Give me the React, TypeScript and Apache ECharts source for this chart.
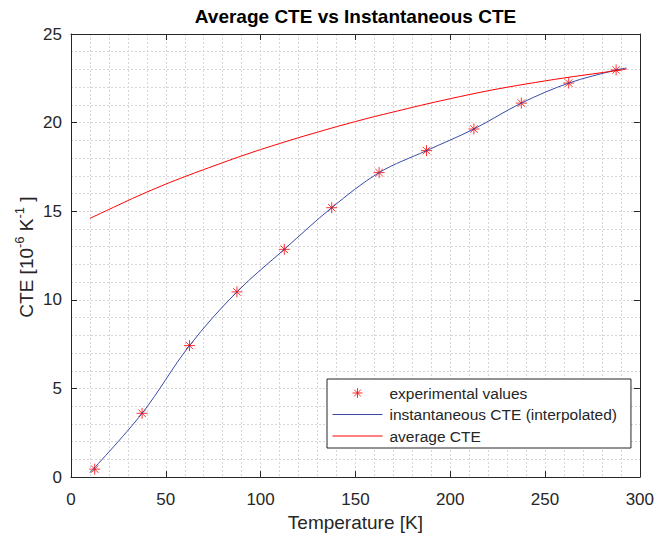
import React, { useEffect, useRef } from "react";
import * as echarts from "echarts";

// ---- data ----
const tempExp = [12.5, 37.5, 62.5, 87.5, 112.5, 137.5, 162.5, 187.5, 212.5, 237.5, 262.5, 287.5];
const cteExp = [0.45, 3.6, 7.42, 10.45, 12.85, 15.2, 17.18, 18.42, 19.64, 21.1, 22.23, 22.97];

const tempInst = [10, 37.5, 62.5, 87.5, 112.5, 137.5, 162.5, 187.5, 212.5, 237.5, 262.5, 287.5, 293];
const cteInst = [0.25, 3.6, 7.42, 10.45, 12.85, 15.2, 17.18, 18.42, 19.64, 21.1, 22.23, 22.97, 23.08];

const tempAvg = [10, 20, 30, 40, 50, 60, 70, 80, 90, 100, 110, 120, 130, 140, 150, 160, 170, 180, 190, 200, 220, 240, 260, 280, 293];
const cteAvg = [14.6, 15.1, 15.6, 16.08, 16.53, 16.95, 17.35, 17.74, 18.12, 18.48, 18.82, 19.15, 19.46, 19.77, 20.06, 20.34, 20.6, 20.86, 21.11, 21.35, 21.8, 22.18, 22.52, 22.82, 23.02];

const xTicks = [0, 50, 100, 150, 200, 250, 300];
const yTicks = [0, 5, 10, 15, 20, 25];

const seriesNames = ["experimental values", "instantaneous CTE (interpolated)", "average CTE"];
const titleText = "Average CTE vs Instantaneous CTE";
const xLabel = "Temperature [K]";

const FONT = '"Liberation Sans", Arial, Helvetica, sans-serif';
const AX = "#262626";
const GRIDC = "#d6d6d6";
const RED = "#ff0000";
const BLUE = "#3a4aa8";
const ASTERISK = "path://M5,0L5,10M0,5L10,5M1.6,1.6L8.4,8.4M1.6,8.4L8.4,1.6";
const LINE_ICON = "path://M0,0L0,0M0,5L50,5M50,10L50,10";

const pairs = (xs: number[], ys: number[]) => xs.map((x, i) => [x, ys[i]]);

export default function App() {
  const ref = useRef<HTMLDivElement>(null);
  useEffect(() => {
    document.body.style.margin = "0";
    const chart = echarts.init(ref.current!, null, { renderer: "svg" });
    const grid = { left: 71, right: 17, top: 34, bottom: 57 };
    const xMin = xTicks[0], xMax = xTicks[xTicks.length - 1], xInt = xTicks[1] - xTicks[0];
    const yMin = yTicks[0], yMax = yTicks[yTicks.length - 1], yInt = yTicks[1] - yTicks[0];
    const plotCx = grid.left + (657 - grid.left - grid.right) / 2;
    const plotCy = grid.top + (537 - grid.top - grid.bottom) / 2;
    const splitDot = { show: true, lineStyle: { color: GRIDC, type: [2, 2] as any, width: 1 } };
    const baseX = {
      type: "value" as const, min: xMin, max: xMax, interval: xInt,
      axisLine: { show: true, onZero: false, lineStyle: { color: AX, width: 1 } },
      axisTick: { show: true, inside: true, length: 6, lineStyle: { color: AX } },
    };
    const baseY = {
      type: "value" as const, min: yMin, max: yMax, interval: yInt,
      axisLine: { show: true, onZero: false, lineStyle: { color: AX, width: 1 } },
      axisTick: { show: true, inside: true, length: 6, lineStyle: { color: AX } },
    };
    chart.setOption({
      animation: false,
      backgroundColor: "#ffffff",
      grid,
      xAxis: [
        {
          ...baseX, position: "bottom",
          axisLabel: { show: true, margin: 14, fontSize: 17, color: AX, fontFamily: FONT },
          splitLine: splitDot,
          minorTick: { show: false, splitNumber: 5 },
          minorSplitLine: splitDot,
          name: xLabel, nameLocation: "middle", nameGap: 35,
          nameTextStyle: { fontSize: 19, color: AX, fontFamily: FONT },
        },
        { ...baseX, position: "top", axisLabel: { show: false }, splitLine: { show: false } },
      ],
      yAxis: [
        {
          ...baseY, position: "left",
          axisLabel: { show: true, margin: 9, fontSize: 17, color: AX, fontFamily: FONT },
          splitLine: splitDot,
          minorTick: { show: false, splitNumber: 5 },
          minorSplitLine: splitDot,
        },
        { ...baseY, position: "right", axisLabel: { show: false }, splitLine: { show: false } },
      ],
      legend: {
        show: true,
        orient: "vertical",
        left: 327,
        top: 379,
        align: "left",
        data: [
          { name: seriesNames[0], itemStyle: { color: "rgba(0,0,0,0)", borderColor: RED, borderWidth: 1 } },
          { name: seriesNames[1], icon: LINE_ICON, itemStyle: { color: "rgba(0,0,0,0)", borderColor: BLUE, borderWidth: 1 } },
          { name: seriesNames[2], icon: LINE_ICON, itemStyle: { color: "rgba(0,0,0,0)", borderColor: RED, borderWidth: 1 } },
        ],
        itemWidth: 50,
        itemHeight: 10,
        itemGap: 5.5,
        padding: [6, 14, 4, 5],
        backgroundColor: "#ffffff",
        borderColor: AX,
        borderWidth: 1,
        borderRadius: 0,
        textStyle: { fontSize: 15.5, color: AX, fontFamily: FONT, lineHeight: 16, padding: [0, 0, 0, 2] },
      },
      series: [
        {
          name: seriesNames[0],
          type: "scatter",
          data: pairs(tempExp, cteExp),
          symbol: ASTERISK,
          symbolSize: 11,
          itemStyle: { color: "rgba(0,0,0,0)", borderColor: RED, borderWidth: 1 },
          z: 2,
        },
        {
          name: seriesNames[1],
          type: "line",
          data: pairs(tempInst, cteInst),
          smooth: 0.35,
          symbol: "none",
          showSymbol: false,
          lineStyle: { color: BLUE, width: 1 },
          itemStyle: { color: BLUE },
          z: 3,
        },
        {
          name: seriesNames[2],
          type: "line",
          data: pairs(tempAvg, cteAvg),
          smooth: 0.3,
          symbol: "none",
          showSymbol: false,
          lineStyle: { color: RED, width: 1 },
          itemStyle: { color: RED },
          z: 3,
        },
      ],
      graphic: [
        {
          type: "text",
          x: plotCx,
          y: 16,
          style: {
            text: titleText,
            fontSize: 19,
            fontWeight: "bold",
            fontFamily: FONT,
            fill: "#000000",
            align: "center",
            verticalAlign: "middle",
          },
        },
        {
          type: "text",
          x: 26,
          y: plotCy,
          rotation: Math.PI / 2,
          style: {
            text: "{m|CTE [10}{s|-6}{m| K}{s|-1}{m| ]}",
            align: "center",
            verticalAlign: "middle",
            fill: AX,
            fontFamily: FONT,
            rich: {
              m: { fontSize: 19, lineHeight: 26, fill: AX, fontFamily: FONT },
              s: { fontSize: 13, lineHeight: 14, fill: AX, fontFamily: FONT, verticalAlign: "top" },
            },
          },
        },
      ],
    });
    return () => chart.dispose();
  }, []);
  return <div ref={ref} style={{ position: "fixed", left: 0, top: 0, width: 657, height: 537, background: "#fff" }} />;
}
